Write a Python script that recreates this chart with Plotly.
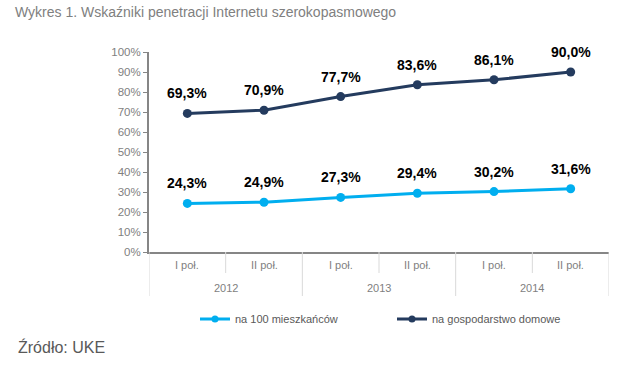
import plotly.graph_objects as go

# ---- data ----
half_labels = ["I poł.", "II poł.", "I poł.", "II poł.", "I poł.", "II poł."]
years = ["2012", "2013", "2014"]
per_100 = [24.3, 24.9, 27.3, 29.4, 30.2, 31.6]
per_household = [69.3, 70.9, 77.7, 83.6, 86.1, 90.0]
y_ticks = [0, 10, 20, 30, 40, 50, 60, 70, 80, 90, 100]
series_names = ["na 100 mieszkańców", "na gospodarstwo domowe"]

LIGHT = "#00AEEF"
DARK = "#243B5E"
GRAY = "#7F7F7F"
AXIS = "#868686"
SEP = "#D9D9D9"
FONT = "Liberation Sans, Arial, sans-serif"

x = list(range(len(half_labels)))

fig = go.Figure()
for name, vals, col in zip(series_names, (per_100, per_household), (LIGHT, DARK)):
    fig.add_trace(go.Scatter(
        x=x, y=vals, mode="lines+markers", name=name, showlegend=False,
        line=dict(color=col, width=3), marker=dict(size=9, color=col),
    ))
    # legend entry with smaller marker
    fig.add_trace(go.Scatter(
        x=[None], y=[None], mode="lines+markers", name=name, showlegend=True,
        line=dict(color=col, width=3), marker=dict(size=7, color=col),
    ))

def fmt(v):
    return f"{v:.1f}".replace(".", ",") + "%"

annotations = []
for series in (per_100, per_household):
    for xi, v in zip(x, series):
        annotations.append(dict(
            x=xi, y=v, xref="x", yref="y", text=fmt(v), showarrow=False,
            yshift=20, font=dict(family=FONT, size=14, color="#000000", weight="bold"),
        ))

# half-year labels
for xi, lab in zip(x, half_labels):
    annotations.append(dict(
        x=xi, y=-0.065, xref="x", yref="paper", text=lab, showarrow=False,
        font=dict(family=FONT, size=11, color=GRAY), yanchor="middle",
    ))
# year labels
for i, yr in enumerate(years):
    annotations.append(dict(
        x=2 * i + 0.5, y=-0.18, xref="x", yref="paper", text=yr, showarrow=False,
        font=dict(family=FONT, size=11, color=GRAY), yanchor="middle",
    ))

# title and source
annotations.append(dict(
    x=13, y=12, text="Wykres 1. Wskaźniki penetracji Internetu szerokopasmowego",
    showarrow=False, xanchor="left", yanchor="middle",
    font=dict(family=FONT, size=14, color="#808080"),
))
annotations.append(dict(
    x=16, y=347, text="Źródło: UKE", showarrow=False, xanchor="left", yanchor="middle",
    font=dict(family=FONT, size=16, color="#595959"),
))

# convert pixel positions for title / source into paper coords
PL, PR, PT, PB = 149, 609, 52, 252
W, H = 620, 365
for a in annotations[-2:]:
    a["xref"] = "paper"
    a["yref"] = "paper"
    a["x"] = (a["x"] - PL) / (PR - PL)
    a["y"] = (PB - a["y"]) / (PB - PT)

shapes = []
n = len(half_labels)
for b in range(n + 1):
    xb = b - 0.5
    long_line = (b % 2 == 0)
    shapes.append(dict(
        type="line", xref="x", yref="paper", x0=xb, x1=xb, y0=0,
        y1=-0.22 if long_line else -0.105,
        line=dict(color=SEP, width=1),
    ))

fig.update_layout(
    width=W, height=H,
    margin=dict(l=PL, r=W - PR, t=PT, b=H - PB, autoexpand=False),
    paper_bgcolor="white", plot_bgcolor="white",
    font=dict(family=FONT),
    showlegend=True,
    legend=dict(
        orientation="h", x=(195 - PL) / (PR - PL), xanchor="left",
        y=(PB - 319) / (PB - PT), yanchor="middle",
        font=dict(family=FONT, size=11, color="#595959"),
        entrywidth=152, bgcolor="rgba(0,0,0,0)",
        itemsizing="trace",
    ),
    annotations=annotations,
    shapes=shapes,
    xaxis=dict(
        range=[-0.5, n - 0.5], showgrid=False, zeroline=False,
        showticklabels=False, ticks="", showline=True, linecolor=AXIS, linewidth=2,
        fixedrange=True,
    ),
    yaxis=dict(
        range=[0, 100], tickvals=y_ticks, ticktext=[f"{t}%" for t in y_ticks],
        showgrid=False, zeroline=False, showline=True, linecolor=AXIS, linewidth=2,
        ticks="outside", ticklen=4, tickcolor=AXIS, tickwidth=1,
        tickfont=dict(family=FONT, size=11.5, color=GRAY), fixedrange=True,
    ),
)

fig.write_html(
    "out.html",
    config={"displayModeBar": False},
    post_script="document.body.style.margin='0';document.body.style.overflow='hidden';",
)
